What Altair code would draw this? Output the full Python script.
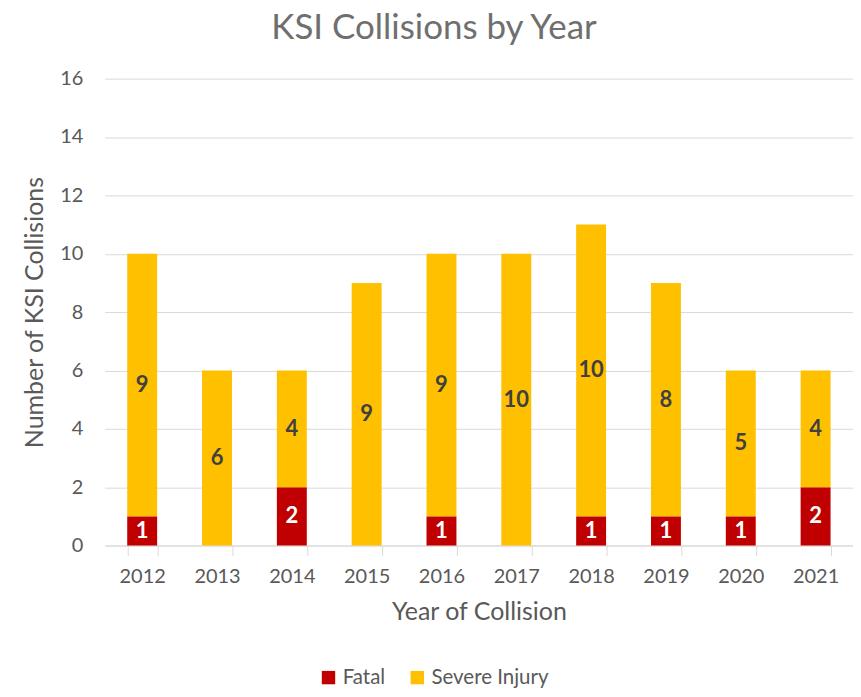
import altair as alt
import pandas as pd

years = ["2012", "2013", "2014", "2015", "2016", "2017", "2018", "2019", "2020", "2021"]
fatal = [1, 0, 2, 0, 1, 0, 1, 1, 1, 2]
severe = [9, 6, 4, 9, 9, 10, 10, 8, 5, 4]
series = ["Fatal", "Severe Injury"]
colors = ["#C00000", "#FFC000"]
title_text = "KSI Collisions by Year"

rows = []
for y, f, s in zip(years, fatal, severe):
    rows.append({"year": y, "type": "Fatal", "value": f, "ord": 0})
    rows.append({"year": y, "type": "Severe Injury", "value": s, "ord": 1})
df = pd.DataFrame(rows)

FONT = "Lato"
GRAY = "#595959"

base = alt.Chart(df).transform_stack(
    stack="value", groupby=["year"], as_=["y0", "y1"], sort=[alt.SortField("ord")]
).transform_calculate(mid="(datum.y0 + datum.y1) / 2")

xenc = alt.X(
    "year:N",
    title="Year of Collision",
    sort=years,
    scale=alt.Scale(paddingInner=0.6, paddingOuter=0.3),
    axis=alt.Axis(
        labelAngle=0, labelFontSize=20, labelColor=GRAY, labelFont=FONT, labelPadding=11,
        titleFontSize=25, titleColor=GRAY, titleFont=FONT, titleFontWeight="normal", titlePadding=13,
        domainColor="#D9D9D9", tickColor="#D9D9D9", tickBand="extent", tickSize=10,
        grid=False,
    ),
)

bars = base.mark_bar().encode(
    x=xenc,
    y=alt.Y(
        "y0:Q",
        title="Number of KSI Collisions",
        scale=alt.Scale(domain=[0, 16]),
        axis=alt.Axis(
            values=list(range(0, 17, 2)), labelFontSize=20, labelColor=GRAY, labelFont=FONT,
            labelPadding=22, ticks=False, domain=False, gridColor="#D9D9D9", gridWidth=1,
            titleFontSize=25, titleColor=GRAY, titleFont=FONT, titleFontWeight="normal", titlePadding=12,
        ),
    ),
    y2="y1:Q",
    color=alt.Color(
        "type:N",
        scale=alt.Scale(domain=series, range=colors),
        legend=alt.Legend(
            title=None, orient="none", direction="horizontal", legendX=214, legendY=590,
            symbolType="square", symbolSize=180, symbolStrokeWidth=0, labelFontSize=20.5,
            labelColor=GRAY, labelFont=FONT, columnPadding=21, labelOffset=4,
        ),
    ),
)

labels = base.transform_filter("datum.value > 0").mark_text(
    font=FONT, fontSize=22, fontWeight="bold", baseline="middle"
).encode(
    x=alt.X("year:N", sort=years),
    y=alt.Y("mid:Q"),
    text="value:Q",
    color=alt.Color("type:N", scale=alt.Scale(domain=series, range=["#FFFFFF", "#404040"]), legend=None),
)

title = alt.Chart(pd.DataFrame({"t": [title_text]})).mark_text(
    font=FONT, fontSize=35, color="#6F6F6F", align="center", baseline="alphabetic"
).encode(
    x=alt.value(330),
    y=alt.value(-40),
    text="t:N",
)

chart = alt.layer(bars, labels, title).resolve_scale(color="independent").properties(
    width=750,
    height=468,
    autosize=alt.AutoSizeParams(type="none"),
    padding={"left": 97, "top": 70, "right": 0, "bottom": 143},
).configure_view(stroke=None)

chart.save("out.html", embed_options={"renderer": "svg", "actions": False})
